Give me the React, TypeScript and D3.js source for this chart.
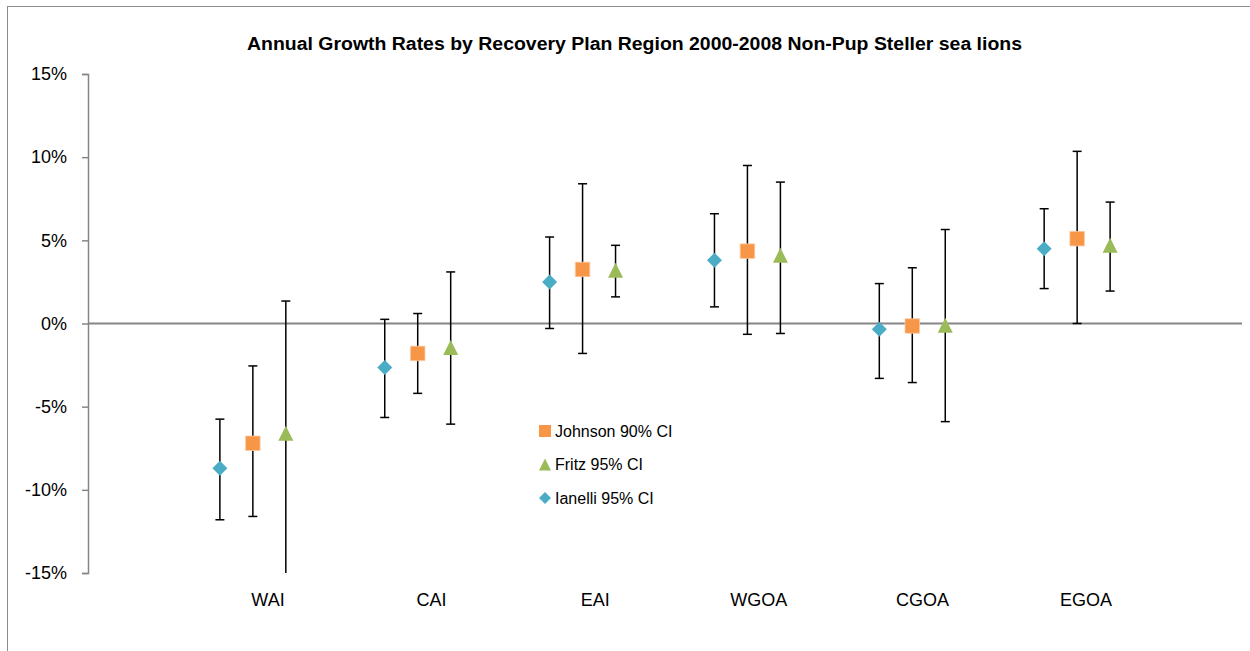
import React, { useEffect, useRef } from 'react';
import * as d3 from 'd3';

// Regions along the x axis
const regions = ['WAI', 'CAI', 'EAI', 'WGOA', 'CGOA', 'EGOA'];

// Growth rates (%) with confidence limits
const johnsonEst = [-7.2, -1.8, 3.25, 4.35, -0.15, 5.1];
const johnsonLo = [-11.6, -4.2, -1.8, -0.65, -3.55, 0.0];
const johnsonHi = [-2.55, 0.6, 8.4, 9.5, 3.35, 10.35];

const fritzEst = [-6.6, -1.45, 3.2, 4.1, -0.1, 4.7];
const fritzLo = [-16, -6.05, 1.6, -0.6, -5.9, 1.95];
const fritzHi = [1.35, 3.1, 4.7, 8.5, 5.65, 7.3];

const ianelliEst = [-8.7, -2.65, 2.5, 3.8, -0.35, 4.5];
const ianelliLo = [-11.8, -5.65, -0.3, 1.0, -3.3, 2.1];
const ianelliHi = [-5.75, 0.25, 5.2, 6.6, 2.4, 6.9];

const yTicks = [15, 10, 5, 0, -5, -10, -15];

const title = 'Annual Growth Rates by Recovery Plan Region 2000-2008 Non-Pup Steller sea lions';

interface Series {
  name: string;
  color: string;
  kind: 'diamond' | 'square' | 'triangle';
  offset: number;
  est: number[];
  lo: number[];
  hi: number[];
}

const series: Series[] = [
  { name: 'Ianelli 95% CI', color: '#4BACC6', kind: 'diamond', offset: -0.2, est: ianelliEst, lo: ianelliLo, hi: ianelliHi },
  { name: 'Johnson 90% CI', color: '#F79646', kind: 'square', offset: 0, est: johnsonEst, lo: johnsonLo, hi: johnsonHi },
  { name: 'Fritz 95% CI', color: '#9BBB59', kind: 'triangle', offset: 0.2, est: fritzEst, lo: fritzLo, hi: fritzHi },
];

const legendOrder = ['Johnson 90% CI', 'Fritz 95% CI', 'Ianelli 95% CI'];

const FONT = '"Liberation Sans", Arial, sans-serif';

// marker path, s = overall width in px
const markerPath = (kind: string, s: number) => {
  const h = s / 2;
  if (kind === 'diamond') return `M0,${-h}L${h},0L0,${h}L${-h},0Z`;
  if (kind === 'square') return `M${-h},${-h}H${h}V${h}H${-h}Z`;
  return `M0,${-h}L${h},${h}H${-h}Z`;
};

export default function App() {
  const svgRef = useRef<SVGSVGElement>(null);

  useEffect(() => {
    if (!svgRef.current) return;
    const svg = d3.select(svgRef.current);
    svg.selectAll('*').remove();

    const x = d3.scaleLinear().domain([0, 7]).range([88, 1242]);
    const y = d3.scaleLinear().domain([-15, 15]).range([573, 74]);
    const labelX = d3.scalePoint<string>().domain(regions).range([268, 1086]);

    // chart frame
    svg.append('rect')
      .attr('x', 7.5).attr('y', 6.5)
      .attr('width', 1260).attr('height', 660)
      .attr('fill', 'white')
      .attr('stroke', '#8c8c8c')
      .attr('stroke-width', 1);

    // title
    svg.append('text')
      .attr('x', 247).attr('y', 50)
      .attr('textLength', 775)
      .attr('lengthAdjust', 'spacingAndGlyphs')
      .style('font-family', FONT)
      .style('font-weight', 'bold')
      .style('font-size', '18px')
      .attr('fill', '#000')
      .text(title);

    // y axis
    const yAxis = svg.append('g')
      .attr('transform', `translate(${x(0)},0)`)
      .call(d3.axisLeft(y).tickValues(yTicks).tickSize(6).tickPadding(15)
        .tickFormat(d => `${d}%`));
    yAxis.select('.domain').attr('stroke', '#868686').attr('stroke-width', 1.5);
    yAxis.selectAll('.tick line').attr('stroke', '#868686').attr('stroke-width', 1.5);
    yAxis.selectAll('.tick text')
      .attr('fill', '#000')
      .style('font-family', FONT)
      .style('font-size', '18px');

    // zero line
    svg.append('line')
      .attr('x1', x(0)).attr('x2', x(7))
      .attr('y1', y(0)).attr('y2', y(0))
      .attr('stroke', '#868686')
      .attr('stroke-width', 2);

    // category labels
    svg.append('g').selectAll('text')
      .data(regions)
      .join('text')
      .attr('x', d => labelX(d)!)
      .attr('y', 606)
      .attr('text-anchor', 'middle')
      .style('font-family', FONT)
      .style('font-size', '18px')
      .attr('fill', '#000')
      .text(d => d);

    // clip error bars to plot area
    svg.append('clipPath').attr('id', 'plot-clip')
      .append('rect')
      .attr('x', x(0)).attr('y', y(15))
      .attr('width', x(7) - x(0)).attr('height', y(-15) - y(15));

    const plot = svg.append('g').attr('clip-path', 'url(#plot-clip)');
    const capHalf = 4.5;

    series.forEach(s => {
      const g = plot.append('g');
      regions.forEach((r, i) => {
        const cx = x(i + 1 + s.offset);
        g.append('line')
          .attr('x1', cx).attr('x2', cx)
          .attr('y1', y(s.lo[i])).attr('y2', y(s.hi[i]))
          .attr('stroke', '#000').attr('stroke-width', 1.5);
        [s.lo[i], s.hi[i]].forEach(v => {
          if (v < -15 || v > 15) return;
          g.append('line')
            .attr('x1', cx - capHalf).attr('x2', cx + capHalf)
            .attr('y1', y(v)).attr('y2', y(v))
            .attr('stroke', '#000').attr('stroke-width', 1.5);
        });
      });
    });

    series.forEach(s => {
      svg.append('g').selectAll('path')
        .data(s.est)
        .join('path')
        .attr('transform', (d, i) => `translate(${x(i + 1 + s.offset)},${y(d)})`)
        .attr('d', markerPath(s.kind, s.kind === 'square' ? 14.5 : 15))
        .attr('fill', s.color)
        .attr('stroke', s.kind === 'square' ? '#FBC9A2' : 'none')
        .attr('stroke-width', 0.8);
    });

    // legend
    const legend = svg.append('g').attr('transform', 'translate(545,431)');
    legendOrder.forEach((name, i) => {
      const s = series.find(ss => ss.name === name)!;
      const row = legend.append('g').attr('transform', `translate(0,${i * 33.5})`);
      row.append('path')
        .attr('d', markerPath(s.kind, 12))
        .attr('fill', s.color);
      row.append('text')
        .attr('x', 10).attr('y', 0)
        .attr('dy', '0.35em')
        .style('font-family', FONT)
        .style('font-size', '16px')
        .attr('fill', '#000')
        .text(name);
    });
  }, []);

  return (
    <svg
      ref={svgRef}
      width={1250}
      height={651}
      style={{ position: 'absolute', left: 0, top: 0, background: 'white' }}
    />
  );
}
